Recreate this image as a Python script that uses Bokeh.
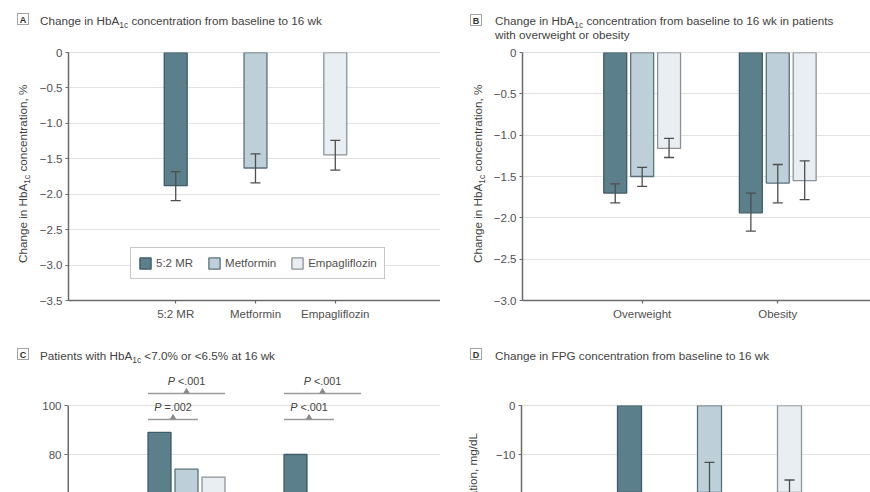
from bokeh.plotting import figure
from bokeh.models import (Range1d, FixedTicker, Legend, LegendItem, Span, Div,
                          CustomJSTickFormatter)
from bokeh.layouts import row, column
from bokeh.embed import file_html
from bokeh.resources import INLINE
from bokeh.core.properties import value

# ---------------- data ----------------
treatments = ["5:2 MR", "Metformin", "Empagliflozin"]

# Panel A: change in HbA1c (%), mean and 95% CI
a_mean = [-1.88, -1.63, -1.445]
a_lower = [-2.09, -1.84, -1.66]
a_upper = [-1.68, -1.43, -1.24]
a_yticks = [0, -0.5, -1.0, -1.5, -2.0, -2.5, -3.0, -3.5]

# Panel B: by BMI group
b_groups = ["Overweight", "Obesity"]
b_mr_mean = [-1.70, -1.94]
b_mr_lower = [-1.82, -2.16]
b_mr_upper = [-1.59, -1.70]
b_met_mean = [-1.50, -1.58]
b_met_lower = [-1.62, -1.82]
b_met_upper = [-1.39, -1.355]
b_emp_mean = [-1.16, -1.55]
b_emp_lower = [-1.27, -1.78]
b_emp_upper = [-1.04, -1.31]
b_yticks = [0, -0.5, -1.0, -1.5, -2.0, -2.5, -3.0]

# Panel C: patients reaching HbA1c targets (%)
c_groups = ["HbA1c <7.0%", "HbA1c <6.5%"]
c_mr = [89.0, 80.0]
c_met = [74.0, 58.9]
c_emp = [70.8, 55.0]
c_p_wide = ["<.001", "<.001"]    # 5:2 MR vs empagliflozin
c_p_narrow = ["=.002", "<.001"]  # 5:2 MR vs metformin
c_yticks = [60, 80, 100]

# Panel D: change in FPG (mg/dL)
d_mean = [-28.5, -19.0, -21.6]
d_lower = [-35.5, -26.4, -28.0]
d_upper = [-21.5, -11.6, -15.2]
d_yticks = [0, -10, -20, -30, -40]

# ---------------- style ----------------
FONT = "Liberation Sans"
TXT = "#424242"
TICK_TXT = "#505050"
AXIS = "#6a6a6a"
GRID = "#e2e2e2"
FILLS = ["#5b7f8b", "#bdd0da", "#e8eef1"]
EDGES = ["#3e5c67", "#58707c", "#8c9398"]
ERR = "#4e4e4e"
TS = 11.7   # title / axis-label font size (px)

AW = {' ': 278, '%': 889, ',': 278, '.': 278, '/': 278, ':': 278, '<': 584, '=': 584,
      'A': 667, 'B': 667, 'C': 722, 'D': 722, 'E': 667, 'F': 611, 'G': 778, 'H': 722,
      'L': 556, 'M': 833, 'O': 778, 'P': 667, 'R': 722,
      'a': 556, 'b': 556, 'c': 500, 'd': 556, 'e': 556, 'f': 278, 'g': 556, 'h': 556,
      'i': 222, 'k': 500, 'l': 222, 'm': 833, 'n': 556, 'o': 556, 'p': 556, 'r': 333,
      's': 500, 't': 278, 'u': 556, 'v': 500, 'w': 722, 'y': 500, 'z': 500}


def tw(s, size):
    return sum(AW.get(ch, 556) for ch in s) * size / 1000.0


SUB = ('<sub style="font-size:8.4px;vertical-align:-2.5px;line-height:0;">1c</sub>')
HBA = "HbA" + SUB


def yfmt(digits):
    return CustomJSTickFormatter(args=dict(d=digits), code="""
        const v = Math.abs(tick) < 1e-9 ? 0 : tick;
        if (v === 0) return "0";
        return (v < 0 ? "\u2212" : "") + Math.abs(v).toFixed(d);
    """)


def xfmt(labels):
    return CustomJSTickFormatter(args=dict(labels=labels), code="""
        const i = Math.round(tick);
        return (Math.abs(tick - i) < 1e-6 && labels[i] !== undefined) ? labels[i] : "";
    """)


def make_fig(width, height, borders, xr, yr, x_axis=True):
    l, r, t, b = borders
    p = figure(width=width, height=height, output_backend="svg", toolbar_location=None,
               tools="", x_range=Range1d(*xr), y_range=Range1d(*yr),
               x_axis_location="below" if x_axis else None,
               min_border_left=l, min_border_right=r, min_border_top=t, min_border_bottom=b)
    p.outline_line_color = None
    p.background_fill_color = "white"
    p.border_fill_color = "white"
    p.xgrid.visible = False
    p.ygrid.grid_line_color = GRID
    p.ygrid.grid_line_width = 1
    for ax in p.axis:
        ax.axis_line_color = AXIS
        ax.axis_line_width = 1.5
        ax.major_tick_line_color = AXIS
        ax.major_tick_line_width = 1.2
        ax.major_tick_out = 3
        ax.major_tick_in = 0
        ax.minor_tick_out = 0
        ax.minor_tick_in = 0
        ax.major_label_text_font = FONT
        ax.major_label_text_font_size = "11.5px"
        ax.major_label_text_color = TICK_TXT
        ax.major_label_standoff = 3
    return p


def box_div(width, height, inner):
    html = (f'<div style="position:relative;width:{width}px;height:{height}px;overflow:hidden;'
            f'font-family:\'{FONT}\',sans-serif;color:{TXT};background:white;">{inner}</div>')
    return Div(text=html, width=width, height=height, margin=0)


def title_div(width, height, bx, by, letter, tx, lines):
    inner = (f'<span style="position:absolute;left:{bx}px;top:{by}px;width:12px;height:12px;'
             f'border:1px solid #a3a3a3;font-size:9px;font-weight:bold;line-height:12px;'
             f'text-align:center;color:#333;">{letter}</span>')
    for ty, html in lines:
        inner += (f'<span style="position:absolute;left:{tx}px;top:{ty}px;font-size:{TS}px;'
                  f'line-height:13px;white-space:nowrap;">{html}</span>')
    return box_div(width, height, inner)


def vlabel_div(width, height, html, left=None, right=None, top=0):
    if left is not None:
        pos = f"left:{left}px;"
        origin = "0 0"
    else:
        pos = f"right:{right}px;"
        origin = "100% 0"
    inner = (f'<span style="position:absolute;{pos}top:{top}px;font-size:{TS}px;'
             f'line-height:14px;white-space:nowrap;transform:rotate(-90deg);'
             f'transform-origin:{origin};">{html}</span>')
    return box_div(width, height, inner)


def error_bars(p, xs, lo, hi):
    p.segment(x0=xs, y0=lo, x1=xs, y1=hi, line_color=ERR, line_width=1.3)
    p.scatter(x=list(xs) + list(xs), y=list(lo) + list(hi), marker="dash", size=10,
              line_color=ERR, line_width=1.3)


def zero_line(p):
    p.add_layout(Span(location=0, dimension="width", line_color="#7a7a7a",
                      line_width=1, line_dash="1 1"))


# ---------------- geometry (page pixels) ----------------
# Frames: A x 67-440, y 52-300 | B x 521-870, y 52-300
#         C x 67-440, y 365-492 | D x 521-870, y 405-492
TOP_T, TOP_P = 44, 286      # title height, plot height (top row)
BOT_T, BOT_P = 35, 127      # bottom row

# ---------------- Panel A ----------------
unitA = 80.0
wA = 404
xa0 = -(174.5 - 67) / unitA
pA = make_fig(wA, TOP_P, (31, 0, 8, 30), (xa0, xa0 + (440 - 67) / unitA), (-3.5, 0))
pA.yaxis.ticker = FixedTicker(ticks=a_yticks)
pA.yaxis.formatter = yfmt(1)
xsA = list(range(len(treatments)))
pA.xaxis.ticker = FixedTicker(ticks=xsA)
pA.xaxis.formatter = xfmt(treatments)
pA.xaxis.major_label_standoff = 4
bar_w = 23 / unitA
rendA = []
for i, t in enumerate(treatments):
    r = pA.vbar(x=[xsA[i]], width=bar_w, top=0, bottom=[a_mean[i]], fill_color=FILLS[i],
                line_color=EDGES[i], line_width=1.3)
    rendA.append(r)
error_bars(pA, xsA, a_lower, a_upper)
zero_line(pA)
legend = Legend(items=[LegendItem(label=t, renderers=[rendA[i]]) for i, t in enumerate(treatments)],
                orientation="horizontal", location=(129 - 67, 300 - 279), margin=0,
                padding=7, spacing=14, glyph_width=14, glyph_height=14, label_standoff=4,
                label_height=16, label_text_font=FONT, label_text_font_size="11.5px",
                label_text_color=TICK_TXT, border_line_color="#8f8f8f", border_line_width=1.3,
                background_fill_color="white", background_fill_alpha=1.0)
pA.add_layout(legend)
tA = title_div(440, TOP_T, 17, 13, "A", 40,
               [(13.5, f"Change in {HBA} concentration from baseline to 16 wk")])
yA = vlabel_div(36, TOP_P, f"Change in {HBA} concentration, %", left=16, top=263 - TOP_T)
panelA = column(tA, row(yA, pA))

# ---------------- Panel B ----------------
unitB = 136.0
wB = 380
xb0 = -(641 - 521) / unitB
pB = make_fig(wB, TOP_P, (31, 0, 8, 30), (xb0, xb0 + (870 - 521) / unitB), (-3.0, 0))
pB.yaxis.ticker = FixedTicker(ticks=b_yticks)
pB.yaxis.formatter = yfmt(1)
xsB = list(range(len(b_groups)))
pB.xaxis.ticker = FixedTicker(ticks=xsB)
pB.xaxis.formatter = xfmt(b_groups)
pB.xaxis.major_label_standoff = 4
offB = 27 / unitB
bwB = 23 / unitB
seriesB = [(b_mr_mean, b_mr_lower, b_mr_upper), (b_met_mean, b_met_lower, b_met_upper),
           (b_emp_mean, b_emp_lower, b_emp_upper)]
for k, (m, lo, hi) in enumerate(seriesB):
    xs = [g + (k - 1) * offB for g in xsB]
    pB.vbar(x=xs, width=bwB, top=0, bottom=m, fill_color=FILLS[k], line_color=EDGES[k],
            line_width=1.3)
    error_bars(pB, xs, lo, hi)
zero_line(pB)
tB = title_div(430, TOP_T, 30, 14, "B", 55,
               [(13.5, f"Change in {HBA} concentration from baseline to 16 wk in patients"),
                (28, "with overweight or obesity")])
yB = vlabel_div(50, TOP_P, f"Change in {HBA} concentration, %", left=481.5 - 10.9 - 440,
                top=263 - TOP_T)
panelB = column(tB, row(yB, pB))

# ---------------- Panel C ----------------
unitC = 136.0
pxC = 2.45  # pixels per percentage point
xc0 = -(186 - 67) / unitC
yc_lo = 100 - (492 - 405) / pxC
yc_hi = 100 + (405 - 365) / pxC
pC = make_fig(440, BOT_P, (67, 0, 0, 0), (xc0, xc0 + (440 - 67) / unitC), (yc_lo, yc_hi),
              x_axis=False)
pC.yaxis.ticker = FixedTicker(ticks=c_yticks)
pC.yaxis.formatter = yfmt(0)
pC.yaxis.axis_line_color = None
xsC = list(range(len(c_groups)))
seriesC = [c_mr, c_met, c_emp]
for k, vals in enumerate(seriesC):
    xs = [g + (k - 1) * offB for g in xsC]
    # bars as polygons from 0 up to the value (clipped cleanly by the frame)
    pxs = [[x - bwB / 2, x + bwB / 2, x + bwB / 2, x - bwB / 2] for x in xs]
    pys = [[0, 0, v, v] for v in vals]
    pC.patches(xs=pxs, ys=pys, fill_color=FILLS[k], line_color=EDGES[k], line_width=1.3)
# axis line only up to the top tick
pC.segment(x0=[xc0], y0=[yc_lo], x1=[xc0], y1=[max(c_yticks)], line_color=AXIS, line_width=3)
# significance brackets
br_narrow_y = 100 - 14 / pxC
br_wide_y = 100 + 12 / pxC
bx0, bx1, by = [], [], []
mx, my = [], []
for g in xsC:
    left = g - offB - bwB / 2
    met_right = g + bwB / 2
    emp_right = g + offB + bwB / 2
    bx0 += [left, left]
    bx1 += [met_right, emp_right]
    by += [br_narrow_y, br_wide_y]
    mx += [(left + met_right) / 2, (left + emp_right) / 2]
    my += [br_narrow_y, br_wide_y]
pC.segment(x0=bx0, y0=by, x1=bx1, y1=by, line_color="#9a9a9a", line_width=1.3)
pC.scatter(x=mx, y=[v + 2 / pxC for v in my], marker="triangle", size=5,
           fill_color="#8a8a8a", line_color="#8a8a8a")
p_texts = []
for gi in range(len(xsC)):
    p_texts += [c_p_narrow[gi], c_p_wide[gi]]
PS = 10.8
for x, y, t in zip(mx, my, p_texts):
    total = tw("P " + t, PS)
    start = -total / 2
    pC.text(x=[x], y=[y], text=["P"], x_offset=start, y_offset=-13, text_align="left",
            text_baseline="middle", text_font=value(FONT), text_font_size=f"{PS}px",
            text_font_style="italic", text_color=TXT)
    pC.text(x=[x], y=[y], text=[t], x_offset=start + tw("P ", PS), y_offset=-13,
            text_align="left", text_baseline="middle", text_font=value(FONT),
            text_font_size=f"{PS}px", text_color=TXT)
tC = title_div(440, BOT_T, 17, 18, "C", 40,
               [(18.5, f"Patients with {HBA} &lt;7.0% or &lt;6.5% at 16 wk")])
panelC = column(tC, pC)

# ---------------- Panel D ----------------
unitD = 80.0
pxD = 4.9
wD = 380
xd0 = -(629 - 521) / unitD
pD = make_fig(wD, BOT_P, (31, 0, 405 - 365, 0), (xd0, xd0 + (870 - 521) / unitD),
              (-(492 - 405) / pxD, 0), x_axis=False)
pD.yaxis.ticker = FixedTicker(ticks=d_yticks)
pD.yaxis.formatter = yfmt(0)
xsD = list(range(len(treatments)))
bwD = 24 / unitD
for i in range(len(treatments)):
    pD.vbar(x=[xsD[i]], width=bwD, top=0, bottom=[d_mean[i]], fill_color=FILLS[i],
            line_color=EDGES[i], line_width=1.3)
error_bars(pD, xsD, d_lower, d_upper)
zero_line(pD)
tD = title_div(430, BOT_T, 30, 18, "D", 55,
               [(18.5, "Change in FPG concentration from baseline to 16 wk")])
yD = vlabel_div(50, BOT_P, "Change in FPG concentration, mg/dL",
                right=50 - (476.5 - 10.9 - 440), top=433 - 365)
panelD = column(tD, row(yD, pD))

layout = column(row(panelA, panelB), row(panelC, panelD))
open("out.html", "w").write(file_html(layout, INLINE))
